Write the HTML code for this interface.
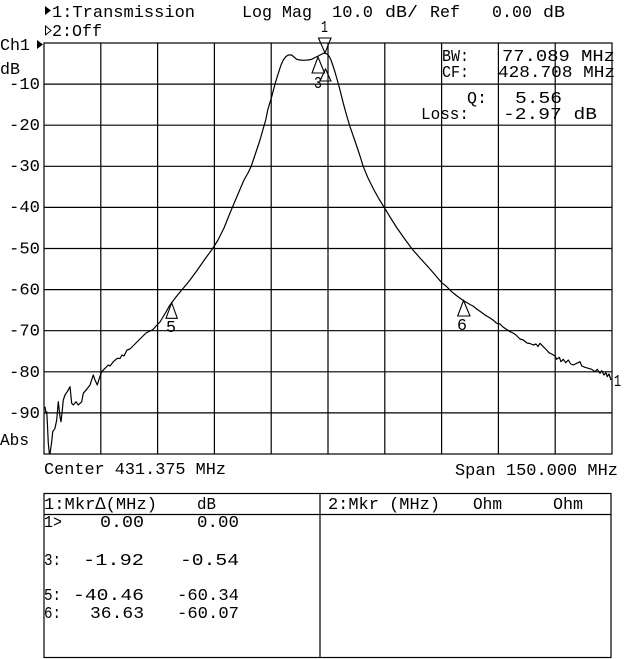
<!DOCTYPE html>
<html>
<head>
<meta charset="utf-8">
<style>
  html,body{margin:0;padding:0;background:#fff;}
  svg{display:block;}
  text{font-family:"Liberation Mono","DejaVu Sans Mono",monospace;font-size:17px;fill:#000;}
</style>
</head>
<body>
<svg width="640" height="659" viewBox="0 0 640 659" xmlns="http://www.w3.org/2000/svg">
  <rect x="0" y="0" width="640" height="659" fill="#fff"/>

  <!-- Header -->
  <polygon points="45,6 51,10.5 45,15" fill="#000"/>
  <text x="52" y="17" textLength="143" lengthAdjust="spacingAndGlyphs">1:Transmission</text>
  <text x="242" y="17" textLength="70" lengthAdjust="spacingAndGlyphs">Log Mag</text>
  <text x="332" y="17" textLength="41" lengthAdjust="spacingAndGlyphs">10.0</text>
  <text x="385" y="17" textLength="33" lengthAdjust="spacingAndGlyphs">dB/</text>
  <text x="430" y="17" textLength="30" lengthAdjust="spacingAndGlyphs">Ref</text>
  <text x="492" y="17" textLength="40" lengthAdjust="spacingAndGlyphs">0.00</text>
  <text x="543" y="17" textLength="22" lengthAdjust="spacingAndGlyphs">dB</text>

  <polygon points="45.5,26 51,30.5 45.5,35" fill="none" stroke="#000" stroke-width="1"/>
  <text x="52" y="36" textLength="50" lengthAdjust="spacingAndGlyphs">2:Off</text>

  <text x="0" y="50" textLength="30" lengthAdjust="spacingAndGlyphs">Ch1</text>
  <polygon points="37,40 43,44.5 37,49" fill="#000"/>
  <text x="0" y="74" textLength="20" lengthAdjust="spacingAndGlyphs">dB</text>

  <!-- Y labels -->
  <g text-anchor="end">
    <text x="40" y="89" textLength="31" lengthAdjust="spacingAndGlyphs">-10</text>
    <text x="40" y="130" textLength="31" lengthAdjust="spacingAndGlyphs">-20</text>
    <text x="40" y="171" textLength="31" lengthAdjust="spacingAndGlyphs">-30</text>
    <text x="40" y="212" textLength="31" lengthAdjust="spacingAndGlyphs">-40</text>
    <text x="40" y="253.5" textLength="31" lengthAdjust="spacingAndGlyphs">-50</text>
    <text x="40" y="294.5" textLength="31" lengthAdjust="spacingAndGlyphs">-60</text>
    <text x="40" y="335.5" textLength="31" lengthAdjust="spacingAndGlyphs">-70</text>
    <text x="40" y="377" textLength="31" lengthAdjust="spacingAndGlyphs">-80</text>
    <text x="40" y="418" textLength="31" lengthAdjust="spacingAndGlyphs">-90</text>
  </g>
  <text x="0" y="445" textLength="29" lengthAdjust="spacingAndGlyphs">Abs</text>

  <!-- Grid -->
  <g stroke="#000" stroke-width="1.2" fill="none">
    <rect x="44" y="43" width="568" height="411"/>
    <line x1="100.8" y1="43" x2="100.8" y2="454"/>
    <line x1="157.6" y1="43" x2="157.6" y2="454"/>
    <line x1="214.4" y1="43" x2="214.4" y2="454"/>
    <line x1="271.2" y1="43" x2="271.2" y2="454"/>
    <line x1="328" y1="43" x2="328" y2="454"/>
    <line x1="384.8" y1="43" x2="384.8" y2="454"/>
    <line x1="441.6" y1="43" x2="441.6" y2="454"/>
    <line x1="498.4" y1="43" x2="498.4" y2="454"/>
    <line x1="555.2" y1="43" x2="555.2" y2="454"/>
    <line x1="44" y1="84.1" x2="612" y2="84.1"/>
    <line x1="44" y1="125.2" x2="612" y2="125.2"/>
    <line x1="44" y1="166.3" x2="612" y2="166.3"/>
    <line x1="44" y1="207.4" x2="612" y2="207.4"/>
    <line x1="44" y1="248.5" x2="612" y2="248.5"/>
    <line x1="44" y1="289.6" x2="612" y2="289.6"/>
    <line x1="44" y1="330.7" x2="612" y2="330.7"/>
    <line x1="44" y1="371.8" x2="612" y2="371.8"/>
    <line x1="44" y1="412.9" x2="612" y2="412.9"/>
  </g>

  <!-- Trace -->
  <polyline fill="none" stroke="#000" stroke-width="1.2" stroke-linejoin="round" points="
45,406.7 46,413.3 46.7,411.7 47.3,421.7 48.3,443.3 49.3,453 50,454 51,446.7 51.7,441.7 52.7,431.7 55,428.3 56.7,420 58.3,401.7 60,416.7 61,421.7 62.3,410 63.3,400 65,395 67.3,391.7 70,386.7 71.7,403.3 73.3,405 76,401.7 78.3,405 81.7,401.7 83.3,393.3 86.7,389.3 90,385 93.3,375 95,380 97.3,385 99.3,378.3 101.7,371.7 105,368.3 108.3,365 110,366 113.3,361.7 117.3,358.3 120,358.5 122,355 124,356 127,350 130,349 133,346 136,343 138,341 141,338 143,336 146,333 150,331 153,329.5 157,325 160,322 163,317 166,312 169,306.5 171.7,302.7 176,297 181.7,290 186,285 190,280 197,270.5 205,259 212.7,248.5 218,240 224,228 228,218 232.3,207.5 238,194 244,180 248,173 251,166.7 254,158 256,152 260,140 263.3,128.3 265.7,120 268,109 271.7,96.7 275,84 278.3,73.3 281,65 283.3,60 286,56.5 288.3,55 291.7,55 294,57 296.7,59.3 300,60 303.3,60.3 308,60 311.7,59.3 315,57.5 318.3,56 321,54.5 323,53.5 325,53 327,54 329,56 331,60 333,66 335,72 336.7,78 340,90 343.3,103.3 346.5,115 350,126.7 355,141 360,156 363.3,166.7 368,178 374,190 379,199 384.3,207.5 390,217 397,228 404,238 411.7,248.5 420,258 430,269 436,276 441.7,282.7 446,286 451.7,291.7 457,296 463.3,300.5 470,304.5 473,306 476.7,309 481,312 485,315 490,318 493,320 496.7,323.3 500,324 503,327 506,329 510,331.7 513,333 516,335 518,337 520,339 523.3,340 527,343 530,343.5 533.3,345 536,344 538,346.5 540,343.3 543.3,346.7 546.7,350 549,352.7 551.7,354 555,356 556.7,359.3 559.3,357.3 561,361.7 563.3,359.3 565.7,362.7 568.3,360 570.7,364 573.3,365 576.7,363.3 580,361.7 581.7,366 585,367.3 588.3,368.3 591.7,369.3 595,371.7 597.3,369.3 600,373.3 601.7,370.7 604,375 606,372.7 607.3,376.7 609,374 611,380"/>

  <!-- Markers -->
  <g fill="none" stroke="#000" stroke-width="1.1" stroke-linejoin="miter">
    <polygon points="318.5,38 331,38 325,53"/>
    <polygon points="318,57 312,73 324.5,73"/>
    <polygon points="325.5,69 320,81 331,81"/>
    <polygon points="171.7,302.7 166,318.3 177.3,318.3"/>
    <polygon points="463.5,300.5 457.7,316 470,316"/>
  </g>
  <text x="321" y="32" textLength="7" lengthAdjust="spacingAndGlyphs">1</text>
  <text x="314" y="88" textLength="8" lengthAdjust="spacingAndGlyphs">3</text>
  <text x="166" y="332" textLength="10" lengthAdjust="spacingAndGlyphs">5</text>
  <text x="457" y="330" textLength="10" lengthAdjust="spacingAndGlyphs">6</text>
  <text x="614" y="386" textLength="7" lengthAdjust="spacingAndGlyphs">1</text>

  <!-- Info box -->
  <text x="442" y="61" textLength="27" lengthAdjust="spacingAndGlyphs">BW:</text>
  <text x="502" y="61" textLength="113" lengthAdjust="spacingAndGlyphs">77.089 MHz</text>
  <text x="442" y="77" textLength="27" lengthAdjust="spacingAndGlyphs">CF:</text>
  <text x="498" y="77" textLength="117" lengthAdjust="spacingAndGlyphs">428.708 MHz</text>
  <text x="467" y="103" textLength="20" lengthAdjust="spacingAndGlyphs">Q:</text>
  <text x="515" y="103" textLength="47" lengthAdjust="spacingAndGlyphs">5.56</text>
  <text x="421" y="119" textLength="48" lengthAdjust="spacingAndGlyphs">Loss:</text>
  <text x="503" y="119" textLength="94" lengthAdjust="spacingAndGlyphs">-2.97 dB</text>

  <!-- Bottom axis labels -->
  <text x="44" y="474" textLength="182" lengthAdjust="spacingAndGlyphs">Center 431.375 MHz</text>
  <text x="455" y="475" textLength="163" lengthAdjust="spacingAndGlyphs">Span 150.000 MHz</text>

  <!-- Table -->
  <g stroke="#000" stroke-width="1.2" fill="none">
    <rect x="44" y="493.5" width="567" height="164"/>
    <line x1="44" y1="514.5" x2="611" y2="514.5"/>
    <line x1="320" y1="493.5" x2="320" y2="657.5"/>
  </g>
  <text x="44" y="509" textLength="113" lengthAdjust="spacingAndGlyphs">1:Mkr∆(MHz)</text>
  <text x="197" y="509" textLength="19" lengthAdjust="spacingAndGlyphs">dB</text>
  <text x="328" y="509" textLength="112" lengthAdjust="spacingAndGlyphs">2:Mkr (MHz)</text>
  <text x="473" y="509" textLength="29" lengthAdjust="spacingAndGlyphs">Ohm</text>
  <text x="553" y="509" textLength="30" lengthAdjust="spacingAndGlyphs">Ohm</text>

  <text x="44" y="527" textLength="18" lengthAdjust="spacingAndGlyphs">1&gt;</text>
  <text x="100" y="527" textLength="44" lengthAdjust="spacingAndGlyphs">0.00</text>
  <text x="197" y="527" textLength="42" lengthAdjust="spacingAndGlyphs">0.00</text>

  <text x="44" y="565" textLength="17" lengthAdjust="spacingAndGlyphs">3:</text>
  <text x="83" y="565" textLength="61" lengthAdjust="spacingAndGlyphs">-1.92</text>
  <text x="180" y="565" textLength="59" lengthAdjust="spacingAndGlyphs">-0.54</text>

  <text x="44" y="600" textLength="17" lengthAdjust="spacingAndGlyphs">5:</text>
  <text x="73" y="600" textLength="71" lengthAdjust="spacingAndGlyphs">-40.46</text>
  <text x="177" y="600" textLength="62" lengthAdjust="spacingAndGlyphs">-60.34</text>

  <text x="44" y="618" textLength="17" lengthAdjust="spacingAndGlyphs">6:</text>
  <text x="90" y="618" textLength="54" lengthAdjust="spacingAndGlyphs">36.63</text>
  <text x="177" y="618" textLength="62" lengthAdjust="spacingAndGlyphs">-60.07</text>
</svg>
</body>
</html>
